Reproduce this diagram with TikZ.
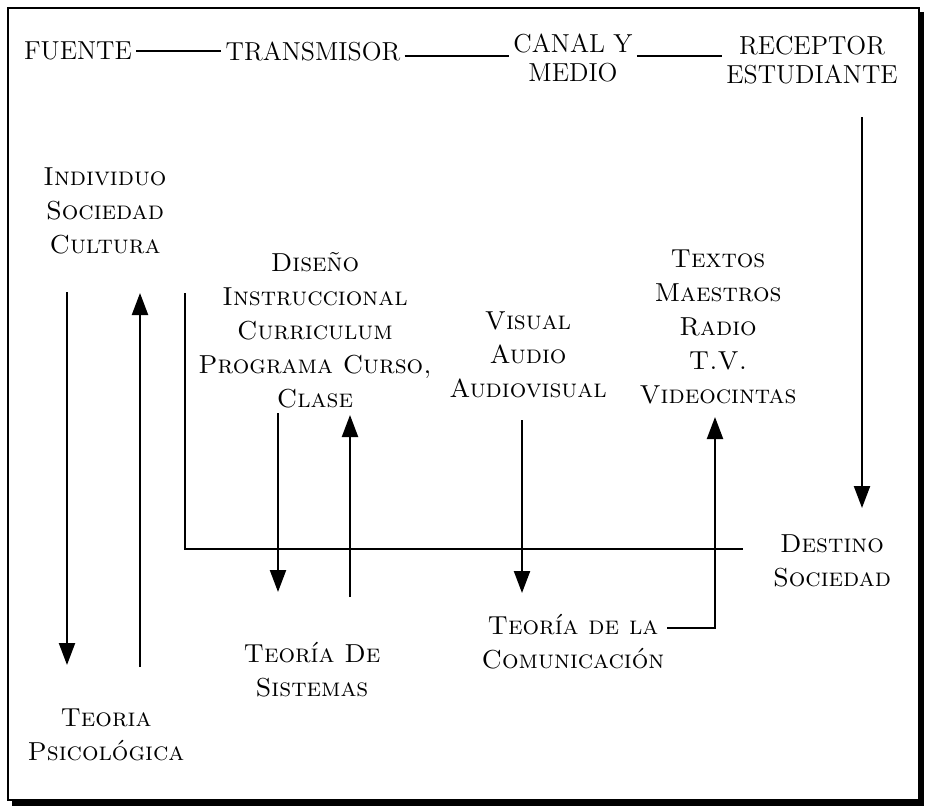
\documentclass[tikz,border=0pt]{standalone}
\usepackage{tikz}
\usetikzlibrary{arrows.meta}

\begin{document}
\begin{tikzpicture}[x=0.5pt,y=-0.5pt]
  \useasboundingbox (0,0) rectangle (925,808);
  % marco con sombra
  \draw[line width=1pt] (8,8) rectangle (919,800);
  \draw[line width=3pt] (921,12) -- (921,803) -- (12,803);

  \begin{scope}[every node/.style={inner sep=2pt,font=\fontsize{13}{14.5}\selectfont}]
    \node (fuente) at (78,51) {FUENTE};
    \node (transmisor) at (313,51) {TRANSMISOR};
    \node[align=center] (canal) at (573,58) {CANAL Y\\MEDIO};
    \node[align=center] (receptor) at (812,60) {RECEPTOR\\ESTUDIANTE};
  \end{scope}

  \begin{scope}[every node/.style={align=center,inner sep=2pt,font=\fontsize{13}{17}\selectfont\scshape}]
    \node (individuo) at (105,211) {Individuo\\Sociedad\\Cultura};
    \node (diseno) at (315,330) {Diseño\\Instruccional\\Curriculum\\Programa Curso,\\Clase};
    \node (visual) at (528,355) {Visual\\Audio\\Audiovisual};
    \node (textos) at (718,327) {Textos\\Maestros\\Radio\\T.V.\\Videocintas};
    \node (psicologica) at (106,735) {Teoria\\Psicológica};
    \node (sistemas) at (312,670) {Teoría De\\Sistemas};
    \node (comunicacion) at (573,642) {Teoría de la\\Comunicación};
    \node (destino) at (832,561) {Destino\\Sociedad};
  \end{scope}

  % puntos de las flechas
  \coordinate (psiA) at (67,292);   \coordinate (psiB) at (67,665);
  \coordinate (psiC) at (140,667);  \coordinate (psiD) at (140,293);
  \coordinate (marcoA) at (185,293); \coordinate (marcoB) at (185,549);
  \coordinate (marcoC) at (743,549);
  \coordinate (sisA) at (278,413);  \coordinate (sisB) at (278,592);
  \coordinate (sisC) at (350,597);  \coordinate (sisD) at (350,415);
  \coordinate (visA) at (522,420);  \coordinate (visB) at (522,593);
  \coordinate (comA) at (667,628);  \coordinate (comB) at (715,628);
  \coordinate (comC) at (715,417);
  \coordinate (recA) at (862,117);  \coordinate (recB) at (862,508);
  \coordinate (hl) at ([yshift=2pt]transmisor.base east);

  \begin{scope}[>={Triangle[length=11pt,width=8pt]}, line width=1.1pt]
    \draw (fuente) -- (transmisor);
    \draw (hl) -- (hl -| canal.west);
    \draw (hl -| canal.east) -- (hl -| receptor.west);
    \draw[->] (psiA) -- (psiB);
    \draw[->] (psiC) -- (psiD);
    \draw (marcoA) -- (marcoB) -- (marcoC);
    \draw[->] (sisA) -- (sisB);
    \draw[->] (sisC) -- (sisD);
    \draw[->] (visA) -- (visB);
    \draw[->] (comA) -- (comB) -- (comC);
    \draw[->] (recA) -- (recB);
  \end{scope}
\end{tikzpicture}
\end{document}
